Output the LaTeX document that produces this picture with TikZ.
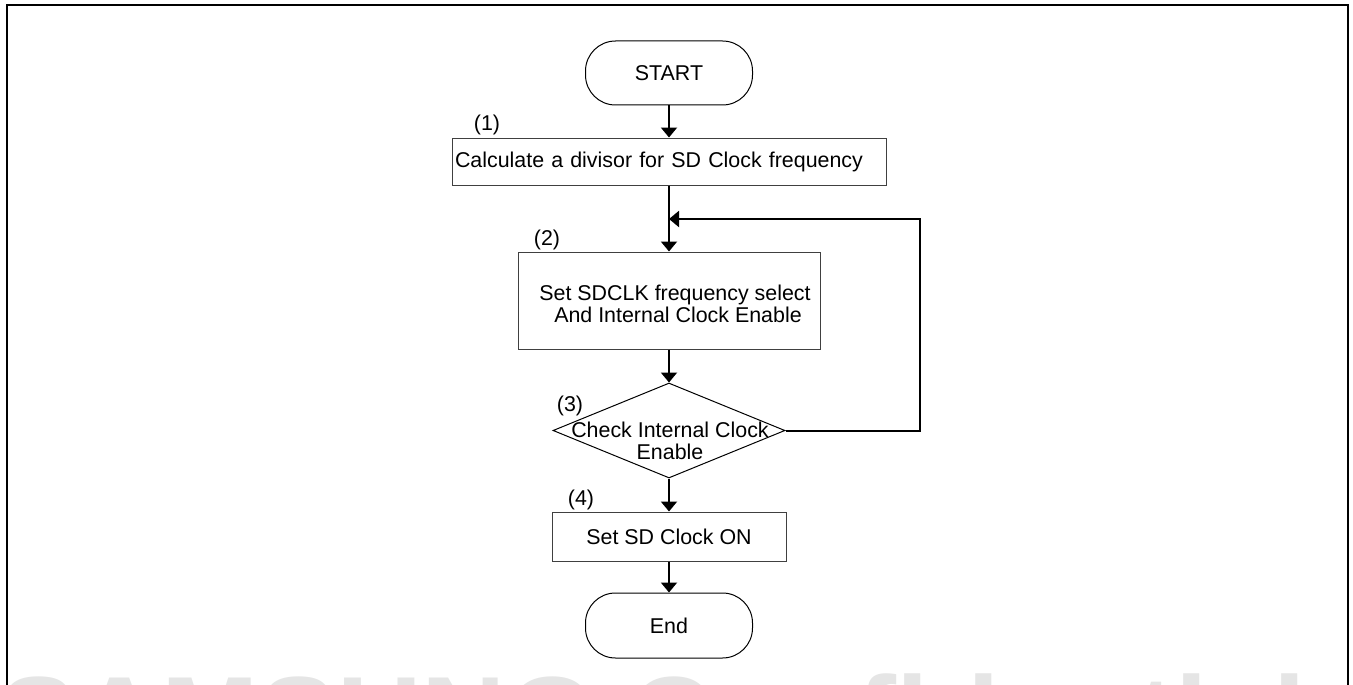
\documentclass[tikz,border=0pt]{standalone}
\usepackage{fontspec}
\setmainfont{Liberation Sans}
\usetikzlibrary{arrows.meta,shapes.geometric}
\tikzset{
  every node/.style={font=\fontsize{21.4}{22}\selectfont},
  procbox/.style={draw=black!75, line width=1pt, rectangle, inner sep=0pt, align=center},
  termbox/.style={draw=black, line width=1pt, rectangle, rounded corners=30pt, inner sep=0pt},
  decbox/.style={draw=black, line width=1pt, diamond, inner sep=0pt, aspect=1},
  conn/.style={line width=2pt, -{Triangle[width=16pt,length=10pt]}},
  stepnum/.style={inner sep=0pt},
}
\begin{document}
\begin{tikzpicture}[x=1pt,y=-1pt]
\useasboundingbox (0,0) rectangle (1353,685);
\begin{scope}
\clip (0,0) rectangle (1353,685);
% watermark
\node[anchor=base west, inner sep=0pt, text=black!10,
      font=\fontsize{117}{117}\selectfont\bfseries] (wm) at (-1,758) {SAMSUNG Confidential};
% frame
\coordinate (fbl) at (6.5,700);
\coordinate (ftl) at (6.5,5.5);
\coordinate (ftr) at (1347.5,5.5);
\coordinate (fbr) at (1347.5,700);
\draw[line width=2pt] (fbl) -- (ftl) -- (ftr) -- (fbr);
\end{scope}

% nodes
\node[termbox, minimum width=167pt, minimum height=64pt] (start) at (669,73) {START};
\node[procbox, minimum width=434pt, minimum height=47pt, text width=428pt, inner xsep=3pt, align=left] (b1) at (669,161.5) {Calculate a divisor for SD Clock frequency};
\node[procbox, minimum width=302pt, minimum height=97pt, text depth=0pt] (b2) at (669,300.5) {};
\node[align=center, inner sep=0pt] (b2text) at (675,304) {Set SDCLK frequency select\\ \hspace*{6pt}And Internal Clock Enable};
\node[decbox, minimum width=232pt, minimum height=95pt] (d) at (669,430.5) {};
\node[align=center, inner sep=0pt] (dtext) at (670,441) {Check Internal Clock\\Enable};
\node[procbox, minimum width=234pt, minimum height=49pt] (b4) at (669,536.5) {Set SD Clock ON};
\node[termbox, minimum width=167pt, minimum height=65pt] (endn) at (669,625.5) {End};

% step labels
\node[stepnum] (l1) at (487,125) {(1)};
\node[stepnum] (l2) at (547,240) {(2)};
\node[stepnum] (l3) at (570,406) {(3)};
\node[stepnum] (l4) at (581,500) {(4)};

% connectors
\coordinate (loopR) at (920,219);
\coordinate (join) at (669,219);
\draw[conn] (start.south) -- (b1.north);
\draw[conn] (b1.south) -- (b2.north);
\draw[conn] (b2.south) -- (d.north);
\draw[conn] (d.south) -- (b4.north);
\draw[conn] (b4.south) -- (endn.north);
\draw[conn] (d.east) -| (loopR) -- (join);
\end{tikzpicture}
\end{document}
